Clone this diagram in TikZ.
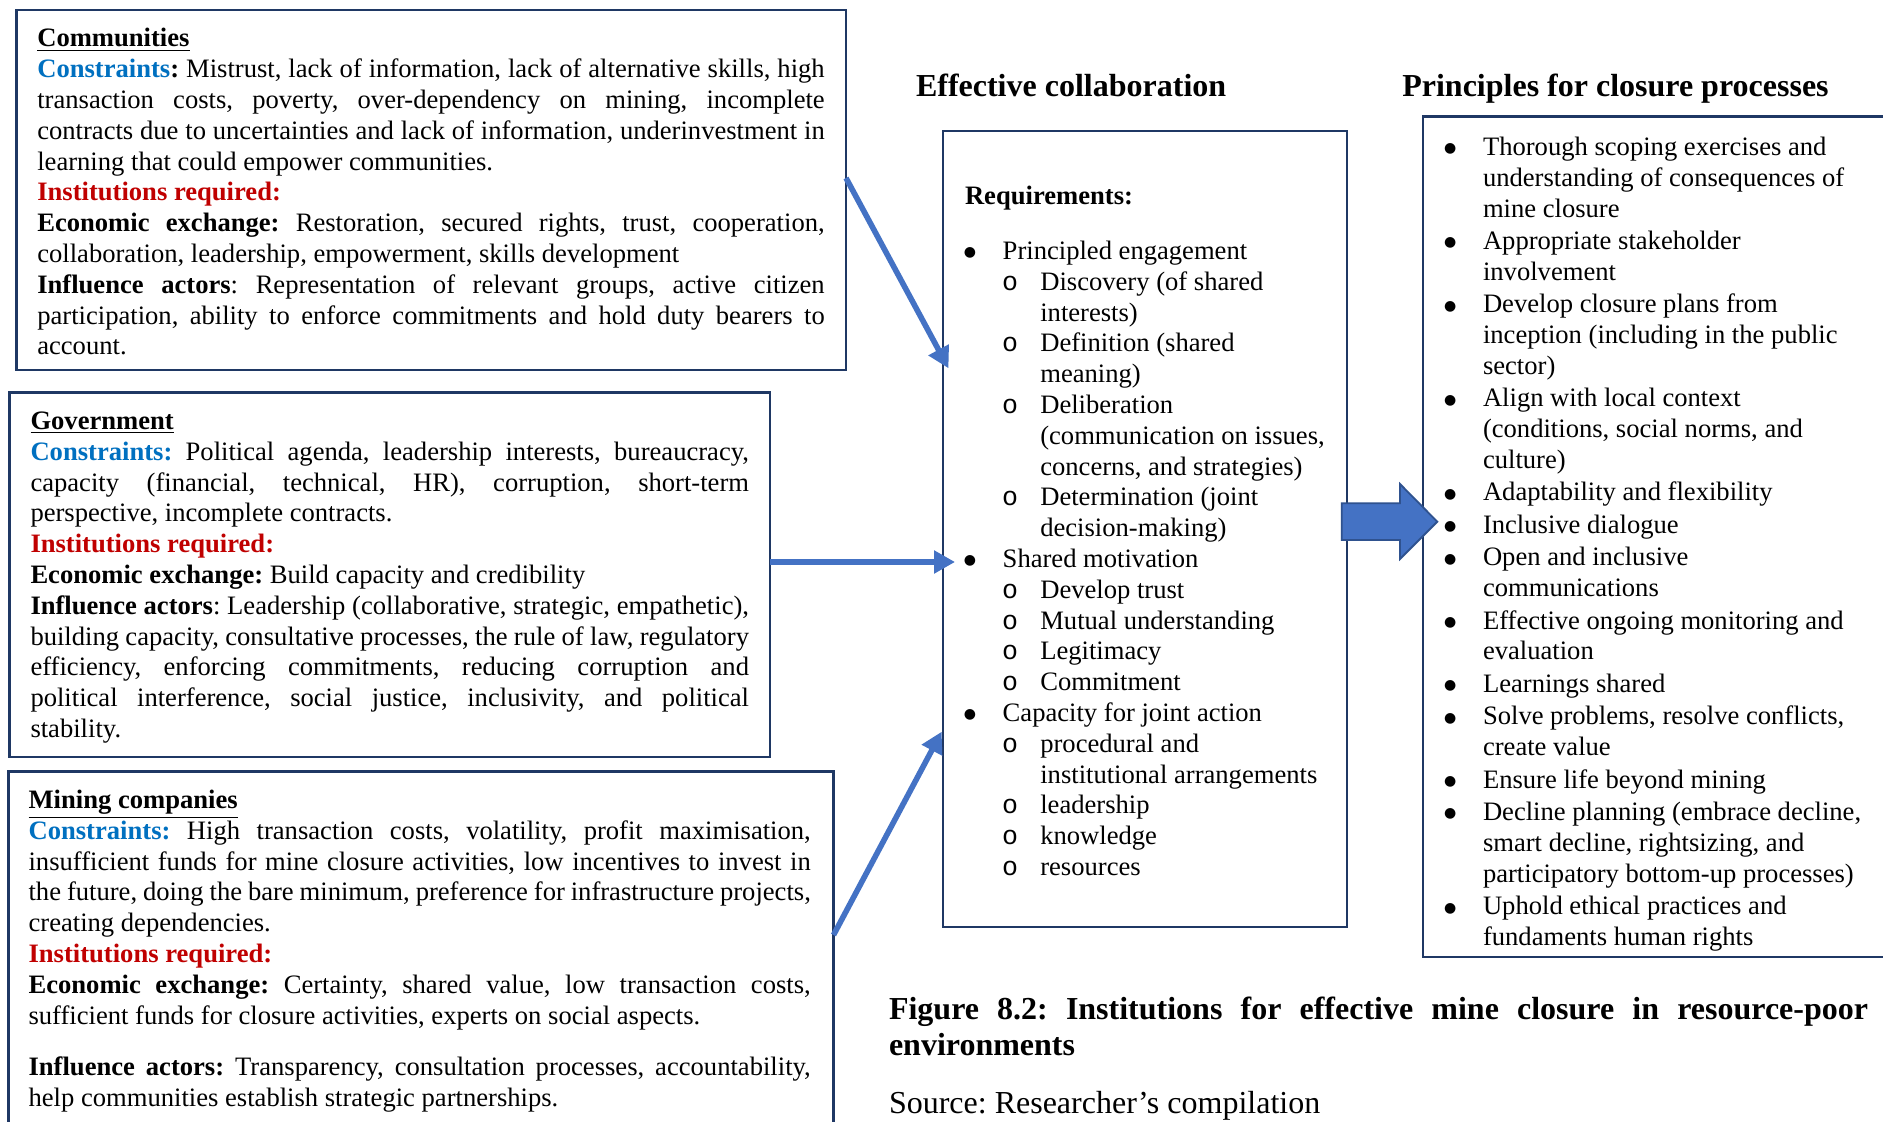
\documentclass[tikz,border=0pt]{standalone}
\usepackage{fontspec}
\setmainfont{Liberation Serif}
\newfontfamily\monof{Liberation Mono}
\newfontfamily\symfont{DejaVu Sans}
\usetikzlibrary{arrows.meta,calc}

\definecolor{cblue}{HTML}{0070C0}
\definecolor{cred}{HTML}{C00000}
\definecolor{navy}{HTML}{1F3864}
\definecolor{arrblue}{HTML}{4472C4}
\definecolor{arrdark}{HTML}{2F528F}

\hbadness=10000
\hfuzz=30pt
\frenchspacing

% justified line, last line of a paragraph
\newcommand\jline[1]{\hbox to \hsize{#1}}
\newcommand\lline[1]{\hbox to \hsize{#1\hfil}}
% bullet lists
\newcommand\dotmark{\makebox[5pt][c]{\raisebox{1.3pt}{\fontsize{7}{7}\selectfont\symfont ●}}}
\newcommand\bitem[1]{\hbox{\dotmark\hspace{13.85pt}#1}}
\newcommand\bcont[1]{\hbox{\hspace{18.85pt}#1}}
\newcommand\sitem[1]{\hbox{\hspace{18.5pt}\makebox[19.15pt][l]{\monof o}#1}}
\newcommand\scont[1]{\hbox{\hspace{37.65pt}#1}}
\newcommand\gap{\vskip0.83pt}

\begin{document}
\begin{tikzpicture}[x=0.5pt,y=-0.5pt,
  box/.style={draw=navy, line width=1.35pt, inner sep=0pt, outer sep=0pt, anchor=north west},
  txt/.style={inner sep=0pt, outer sep=0pt, anchor=base west, font=\fontsize{13.3}{15.4}\selectfont},
  head/.style={inner sep=0pt, outer sep=0pt, anchor=base west, font=\fontsize{16}{18}\selectfont\bfseries},
  link/.style={draw=arrblue, line width=2.8pt, -{Triangle[length=10.5pt,width=11pt]}},
  blockarrow/.style={fill=arrblue, draw=arrdark, line width=0.9pt, line join=miter}]

\useasboundingbox (0,0) rectangle (1883,1122);
\clip (0,0) rectangle (1883,1122);
\fill[white] (0,0) rectangle (1883,1122);

% ---------- actor boxes ----------
\node[box, minimum width=414.75pt, minimum height=180pt] (comm) at (16.5,10) {};
\node[box, minimum width=380.25pt, minimum height=182.25pt] (gov) at (9.5,392.5) {};
\node[box, minimum width=412.5pt, minimum height=184.15pt] (mine) at (8.5,771.7) {};

\node[txt] (commtext) at (37.3,47) {\vtop{\hsize=393.7pt
  \lline{\textbf{\underline{Communities}}}
  \jline{\textbf{\textcolor{cblue}{Constraints}:} Mistrust, lack of information, lack of alternative skills, high}
  \jline{transaction costs, poverty, over-dependency on mining, incomplete}
  \jline{contracts due to uncertainties and lack of information, underinvestment in}
  \lline{learning that could empower communities.}
  \lline{\textbf{\textcolor{cred}{Institutions required:}}}
  \jline{\textbf{Economic exchange:} Restoration, secured rights, trust, cooperation,}
  \lline{collaboration, leadership, empowerment, skills development}
  \jline{\textbf{Influence actors}: Representation of relevant groups, active citizen}
  \jline{participation, ability to enforce commitments and hold duty bearers to}
  \lline{account.}}};

\node[txt] (govtext) at (30.5,429.5) {\vtop{\hsize=359.25pt
  \lline{\textbf{\underline{Government}}}
  \jline{\textbf{\textcolor{cblue}{Constraints:}} Political agenda, leadership interests, bureaucracy,}
  \jline{capacity (financial, technical, HR), corruption, short-term}
  \lline{perspective, incomplete contracts.}
  \lline{\textbf{\textcolor{cred}{Institutions required:}}}
  \lline{\textbf{Economic exchange:} Build capacity and credibility}
  \jline{\textbf{Influence actors}: Leadership (collaborative, strategic, empathetic),}
  \jline{building capacity, consultative processes, the rule of law, regulatory}
  \jline{efficiency, enforcing commitments, reducing corruption and}
  \jline{political interference, social justice, inclusivity, and political}
  \lline{stability.}}};

\node[txt] (minetext) at (28.6,808.5) {\vtop{\hsize=391.1pt
  \lline{\textbf{\underline{Mining companies}}}
  \jline{\textbf{\textcolor{cblue}{Constraints:}} High transaction costs, volatility, profit maximisation,}
  \jline{insufficient funds for mine closure activities, low incentives to invest in}
  \jline{the future, doing the bare minimum, preference for infrastructure projects,}
  \lline{creating dependencies.}
  \lline{\textbf{\textcolor{cred}{Institutions required:}}}
  \jline{\textbf{Economic exchange:} Certainty, shared value, low transaction costs,}
  \lline{sufficient funds for closure activities, experts on social aspects.}
  \vskip10.4pt
  \jline{\textbf{Influence actors:} Transparency, consultation processes, accountability,}
  \lline{help communities establish strategic partnerships.}}};

% ---------- effective collaboration ----------
\node[head] (t1) at (916,96.5) {Effective collaboration};
\node[box, minimum width=202pt, minimum height=398pt] (cbox) at (943,131) {};
\node[txt] (ctext) at (965,205) {\vtop{
  \hbox{\textbf{Requirements:}}
  \vskip11.85pt
  \bitem{Principled engagement}
  \sitem{Discovery (of shared}
  \scont{interests)}
  \sitem{Definition (shared}
  \scont{meaning)}
  \sitem{Deliberation}
  \scont{(communication on issues,}
  \scont{concerns, and strategies)}
  \sitem{Determination (joint}
  \scont{decision-making)}
  \bitem{Shared motivation}
  \sitem{Develop trust}
  \sitem{Mutual understanding}
  \sitem{Legitimacy}
  \sitem{Commitment}
  \bitem{Capacity for joint action}
  \sitem{procedural and}
  \scont{institutional arrangements}
  \sitem{leadership}
  \sitem{knowledge}
  \sitem{resources}}};

% ---------- principles ----------
\node[head] (t2) at (1402.3,97) {Principles for closure processes};
\node[box, minimum width=238.5pt, minimum height=420.25pt] (rbox) at (1423,116.5) {};
\node[txt] (rtext) at (1445.3,155.5) {\vtop{
  \bitem{Thorough scoping exercises and}
  \bcont{understanding of consequences of}
  \bcont{mine closure}
  \gap
  \bitem{Appropriate stakeholder}
  \bcont{involvement}
  \gap
  \bitem{Develop closure plans from}
  \bcont{inception (including in the public}
  \bcont{sector)}
  \gap
  \bitem{Align with local context}
  \bcont{(conditions, social norms, and}
  \bcont{culture)}
  \gap
  \bitem{Adaptability and flexibility}
  \gap
  \bitem{Inclusive dialogue}
  \gap
  \bitem{Open and inclusive}
  \bcont{communications}
  \gap
  \bitem{Effective ongoing monitoring and}
  \bcont{evaluation}
  \gap
  \bitem{Learnings shared}
  \gap
  \bitem{Solve problems, resolve conflicts,}
  \bcont{create value}
  \gap
  \bitem{Ensure life beyond mining}
  \gap
  \bitem{Decline planning (embrace decline,}
  \bcont{smart decline, rightsizing, and}
  \bcont{participatory bottom-up processes)}
  \gap
  \bitem{Uphold ethical practices and}
  \bcont{fundaments human rights}}};

% ---------- connectors ----------
\coordinate (a1s) at ($(comm.north east)+(0,168)$);
\coordinate (a1e) at ($(cbox.north west)+(5.5,237.3)$);
\coordinate (a2s) at ($(gov.north east)+(0,169.5)$);
\coordinate (a2e) at ($(cbox.north west)+(12,431)$);
\coordinate (a3s) at ($(mine.north east)+(0,163.3)$);
\coordinate (a3e) at ($(cbox.north west)+(-1.3,600.7)$);
\draw[link] (a1s) -- (a1e);
\draw[link] (a2s) -- (a2e);
\draw[link] (a3s) -- (a3e);

% block arrow from requirements to principles
\coordinate (ba) at ($(cbox.north east)+(-5.3,390.7)$);
\filldraw[blockarrow] ($(ba)+(0,-18.4)$) -- ($(ba)+(58.3,-18.4)$) -- ($(ba)+(58.3,-37.7)$)
  -- ($(ba)+(95.6,0)$) -- ($(ba)+(58.3,37.3)$) -- ($(ba)+(58.3,18.3)$) -- ($(ba)+(0,18.3)$) -- cycle;

% ---------- caption ----------
\node[head] (cap) at (889,1019.5) {\vtop{\hsize=489.5pt
  \jline{Figure 8.2: Institutions for effective mine closure in resource-poor}
  \lline{environments}}};
\node[inner sep=0pt, outer sep=0pt, anchor=base west, font=\fontsize{16}{18}\selectfont] (src) at (889,1113.5) {Source: Researcher’s compilation};

\end{tikzpicture}
\end{document}
